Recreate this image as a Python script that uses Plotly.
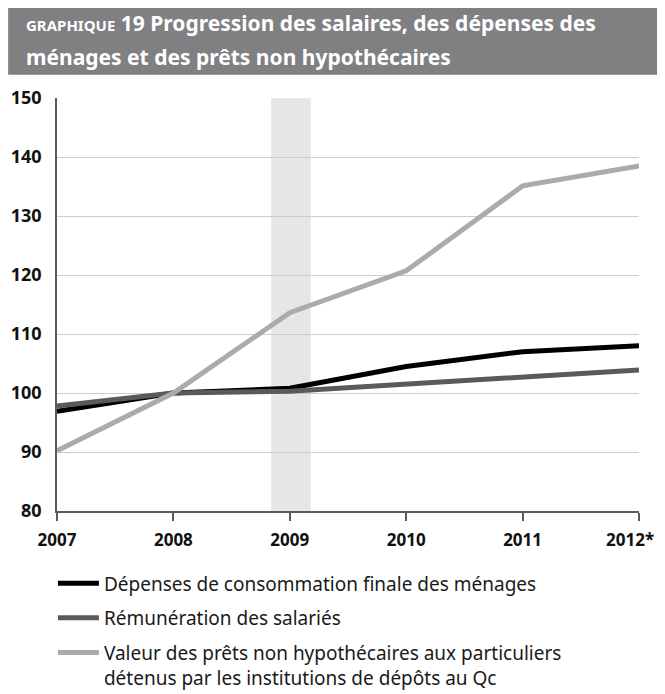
import plotly.graph_objects as go

# données (indice, 2008 = 100)
annees = [2007, 2008, 2009, 2010, 2011, 2012]
etiquettes_annees = ["2007", "2008", "2009", "2010", "2011",
                     "2012*\u00a0\u00a0\u00a0\u00a0"]
depenses = [96.9, 100.0, 100.8, 104.5, 107.0, 108.0]
remuneration = [97.8, 100.0, 100.3, 101.5, 102.5, 103.9]
prets = [90.2, 100.0, 113.6, 120.7, 135.1, 138.5]

noms = [
    "Dépenses de consommation finale des ménages",
    "Rémunération des salariés",
    "Valeur des prêts non hypothécaires aux particuliers<br>détenus par les institutions de dépôts au Qc",
]
couleurs = ["#000000", "#5a5a5a", "#ababab"]

# zone ombrée (récession)
recession = [2008.84, 2009.18]

fig = go.Figure()
for nom, serie, coul in zip(noms, [depenses, remuneration, prets], couleurs):
    fig.add_trace(go.Scatter(
        x=annees, y=serie, name=nom, mode="lines",
        line=dict(color=coul, width=5),
        legendgroup=nom,
    ))

fig.add_shape(type="rect", xref="x", yref="y",
              x0=recession[0], x1=recession[1], y0=80, y1=150,
              fillcolor="#e6e6e6", line_width=0, layer="below")

# bandeau du titre
fig.add_shape(type="rect", xref="paper", yref="paper",
              x0=-0.084, x1=1.038, y0=1.056, y1=1.235,
              fillcolor="#808083", line_width=0)
fig.add_annotation(
    xref="paper", yref="paper", x=-0.0565, y=1.1816, xanchor="left", yanchor="middle",
    text="<span style='font-size:15px'>GRAPHIQUE</span> 19 Progression des salaires, des dépenses des",
    showarrow=False, font=dict(family="Noto Sans", size=21, color="white", weight="bold"))
fig.add_annotation(
    xref="paper", yref="paper", x=-0.0565, y=1.0993, xanchor="left", yanchor="middle",
    text="ménages et des prêts non hypothécaires",
    showarrow=False, font=dict(family="Noto Sans", size=21, color="white", weight="bold"))

fig.update_layout(
    width=657, height=686,
    margin=dict(l=49, r=26, t=90, b=183, autoexpand=False),
    plot_bgcolor="white", paper_bgcolor="white",
    font=dict(family="Noto Sans", color="#111111"),
    legend=dict(
        x=-0.007, y=-0.129, xanchor="left", yanchor="top",
        font=dict(size=19, color="#1a1a1a"),
        traceorder="grouped", tracegroupgap=7, valign="top",
        itemwidth=41, bgcolor="rgba(0,0,0,0)",
    ),
    showlegend=True,
)
fig.update_xaxes(
    range=[2007, 2012], tickvals=annees, ticktext=etiquettes_annees,
    showgrid=False, showline=True, linecolor="#5a5a5a", linewidth=2,
    ticks="outside", ticklen=8, tickwidth=1.5, tickcolor="#5a5a5a",
    tickfont=dict(size=17, color="#111111", weight="bold"),
    ticklabeloverflow="allow", ticklabelstandoff=5,
    zeroline=False,
)
fig.update_yaxes(
    range=[80, 150], dtick=10,
    showgrid=True, gridcolor="#cccccc", gridwidth=1,
    showline=True, linecolor="#5a5a5a", linewidth=1.5,
    ticks="", ticklabelstandoff=10,
    tickfont=dict(size=18, color="#111111", weight="bold"),
    zeroline=False,
)

fig.write_html("out.html")
